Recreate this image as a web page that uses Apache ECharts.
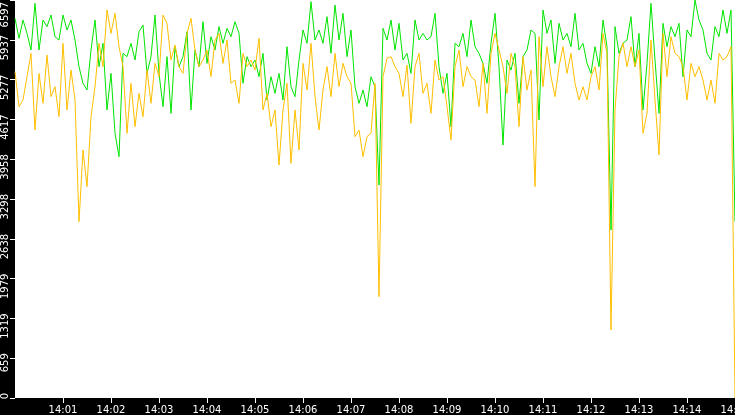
<!DOCTYPE html>
<html>
<head>
<meta charset="utf-8">
<script src="https://cdn.jsdelivr.net/npm/echarts@6/dist/echarts.min.js"></script>
<style>
html,body{margin:0;padding:0;background:#000;}
#chart{width:735px;height:415px;}
</style>
</head>
<body>
<div id="chart"></div>
<script>
// Sample interval of the readings, in seconds (from 14:00:00 to 14:15:00)
const sampleSeconds = 5;
const startHour = 14;
const sampleCount = 181;

// Y-axis tick labels as shown: 0, 659, 1319 ... 6597
const yMax = 6597;
const yInterval = 659.7;

// Green series (one every 5 s)
const greenValues = [
  6293, 5961, 6265, 6044, 5768, 6542, 5768, 6265, 6155, 6348, 5989, 5934, 6348, 6100, 6265, 5934,
  5492, 5216, 5105, 5768, 6265, 5492, 5879, 4774, 5381, 4387, 4000, 5713, 5658, 5879, 5602, 6072,
  6182, 5381, 5658, 6348, 5381, 4829, 5658, 4718, 5823, 5492, 5658, 6072, 4774, 5768, 5492, 6238,
  5547, 5989, 5768, 6155, 5879, 6127, 5989, 6238, 6044, 5216, 5658, 5492, 5602, 5326, 5713,
  4939, 5326, 5050, 5381, 4939, 5823, 5160, 4995, 5602, 6100, 5879, 6569, 5934, 6100, 5879, 6321,
  5713, 6514, 5934, 6376, 5658, 6100, 5160, 4884, 5105, 4829, 5326, 5160, 3530, 6127, 5934,
  6265, 5768, 6210, 5602, 5713, 5381, 6265, 5934, 6044, 5934, 5989, 6376, 5492, 5050, 5381, 4497,
  5879, 5823, 6044, 5658, 6265, 5823, 5713, 5547, 5216, 5879, 6376, 5492, 4193, 5602, 5437,
  5713, 4884, 5658, 5768, 6100, 6044, 4608, 6431, 6044, 6265, 5547, 6210, 5934, 6044, 5823, 6376,
  5768, 5879, 5547, 5381, 5823, 5492, 6265, 5823, 2785, 6155, 5713, 5879, 5934, 6321, 5492,
  6044, 4774, 5547, 6542, 5602, 4718, 6210, 5823, 6155, 5989, 6210, 5326, 6100, 5989, 6597, 6265,
  6100, 5713, 5602, 6155, 5989, 6431, 6044, 6431, 2923
];

// Orange series (one every 5 s)
const orangeValues = [
  5409, 4829, 4939, 5326, 5713, 4442, 5381, 4884, 5685, 4995, 5160, 4663, 5879, 4774, 5437, 4939,
  2923, 4111, 3503, 4663, 5160, 5879, 5492, 6431, 6044, 6376, 5823, 5492, 4387, 5216, 4497, 5050,
  4663, 5437, 4884, 5547, 5326, 6348, 6210, 5602, 5851, 5492, 5381, 6044, 6293, 5768, 5492, 5602,
  5768, 5326, 5934, 6044, 5547, 5934, 5216, 5271, 4884, 5713, 5492, 5602, 5437, 5961, 4774,
  5050, 4497, 4774, 3862, 4774, 5216, 3890, 4774, 4111, 5547, 5105, 5879, 4995, 4442, 5105, 5492,
  4995, 5713, 5160, 5547, 5326, 5216, 4332, 4442, 4000, 4332, 4387, 5216, 1680, 5326, 5630,
  5658, 5492, 5381, 4995, 5519, 4553, 5492, 5713, 5050, 5216, 4718, 5602, 5271, 5326, 4829, 4276,
  5492, 5768, 5160, 5492, 5326, 5271, 4829, 5547, 4718, 5713, 6044, 5768, 5492, 5050, 5713,
  5492, 4497, 5658, 5105, 5437, 3503, 5989, 5160, 5823, 5326, 4995, 5492, 5823, 5381, 5713, 5216,
  4939, 5160, 4939, 5326, 5492, 5105, 6044, 5713, 1127, 4774, 5658, 5879, 5492, 5823, 5492,
  5768, 4387, 4718, 5934, 4939, 4028, 6044, 5326, 5989, 5713, 5658, 5492, 4939, 5547, 5326, 5492,
  5271, 4939, 5271, 4884, 5713, 5602, 5658, 5823, 0
];

// Time categories 14:00:00 ... 14:15:00
const pad = n => (n < 10 ? '0' : '') + n;
const timeCategories = [];
for (let k = 0; k < sampleCount; k++) {
  const s = k * sampleSeconds;
  timeCategories.push(pad(startHour) + ':' + pad(Math.floor(s / 60)) + ':' + pad(s % 60));
}
const perMinute = 60 / sampleSeconds;
const minuteTick = (i) => i > 0 && i % perMinute === 0;

const FONT = 'DejaVu Sans';
const chart = echarts.init(document.getElementById('chart'), null, {renderer: 'canvas'});
chart.setOption({
  animation: false,
  backgroundColor: '#000',
  grid: {left: 15, right: 0, top: 0, bottom: 17, show: true, backgroundColor: '#fff', borderWidth: 0,
         containLabel: false, outerBoundsMode: 'none'},
  xAxis: {
    type: 'category',
    data: timeCategories,
    boundaryGap: false,
    axisLine: {show: false},
    axisTick: {show: true, interval: minuteTick, length: 5, lineStyle: {color: '#fff', width: 1}},
    axisLabel: {
      interval: minuteTick,
      formatter: v => v.slice(0, 5),
      color: '#fff', fontSize: 10, fontFamily: FONT, margin: 7
    },
    splitLine: {show: false}
  },
  yAxis: {
    type: 'value',
    min: 0, max: yMax, interval: yInterval,
    axisLine: {show: false},
    axisTick: {show: true, length: 5, lineStyle: {color: '#fff', width: 1}},
    splitLine: {show: false},
    axisLabel: {
      rotate: 90,
      align: 'right',
      verticalAlign: 'middle',
      margin: 10,
      padding: [0, -5, 0, 0],
      color: '#fff', fontSize: 10, fontFamily: FONT,
      formatter: v => (v >= yMax ? '{t|' + yMax + '}' : String(Math.floor(v + 1e-6))),
      rich: {t: {padding: [0, 7, 0, 0], color: '#fff', fontSize: 10, fontFamily: FONT}}
    }
  },
  series: [
    {type: 'line', data: greenValues, showSymbol: false, lineStyle: {color: '#00e400', width: 1}, itemStyle: {color: '#00e400'}},
    {type: 'line', data: orangeValues, showSymbol: false, lineStyle: {color: '#ffbf00', width: 1}, itemStyle: {color: '#ffbf00'}}
  ]
});
</script>
</body>
</html>
